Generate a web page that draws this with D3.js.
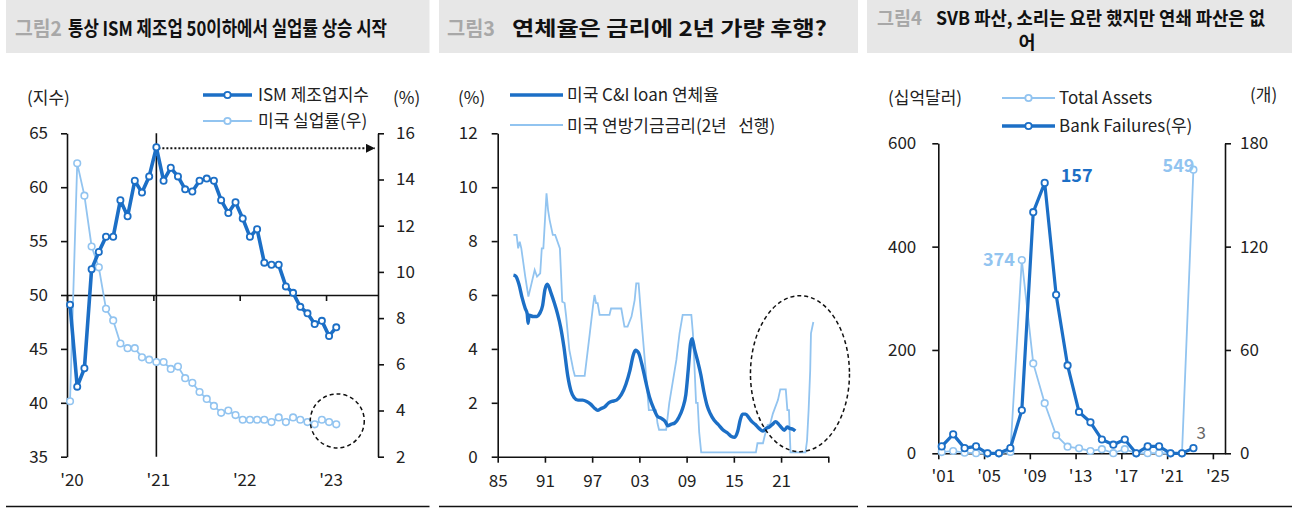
<!DOCTYPE html>
<html><head><meta charset="utf-8">
<script src="https://cdn.jsdelivr.net/npm/d3@7"></script>
<style>
body{margin:0;background:#fff;}
svg text{font-family:"Noto Sans CJK KR","Noto Sans",sans-serif;}
</style></head><body><svg id="c" width="1292" height="509"></svg>
<script>
// ---------------- Panel 1 data (monthly, Mar 2020 - Apr 2023) ----------------
const p1Months = ["2020-03","2020-04","2020-05","2020-06","2020-07","2020-08","2020-09","2020-10","2020-11","2020-12",
  "2021-01","2021-02","2021-03","2021-04","2021-05","2021-06","2021-07","2021-08","2021-09","2021-10","2021-11","2021-12",
  "2022-01","2022-02","2022-03","2022-04","2022-05","2022-06","2022-07","2022-08","2022-09","2022-10","2022-11","2022-12",
  "2023-01","2023-02","2023-03","2023-04"];
const ismValues = [49.1,41.5,43.2,52.4,54.0,55.4,55.4,58.8,57.3,60.6,
  59.5,61.0,63.7,60.6,61.8,61.0,59.8,59.6,60.6,60.8,60.6,58.8,
  57.6,58.6,57.1,55.4,56.1,53.0,52.8,52.8,50.8,50.2,48.9,48.3,
  47.3,47.6,46.2,47.0];
const unempValues = [4.4,14.7,13.3,11.1,10.2,8.4,7.9,6.9,6.7,6.7,
  6.3,6.2,6.1,6.1,5.8,5.9,5.4,5.2,4.8,4.5,4.2,3.9,
  4.0,3.8,3.6,3.6,3.6,3.6,3.5,3.7,3.5,3.7,3.6,3.5,
  3.4,3.6,3.5,3.4];
const p1XLabels = ["'20","'21","'22","'23"];
const p1LeftTicks = [35,40,45,50,55,60,65];
const p1RightTicks = [2,4,6,8,10,12,14,16];

// ---------------- Panel 2 data ----------------
const ciYears = [1987.0,1987.3,1987.7,1988.1,1988.5,1988.75,1988.85,1989.0,1989.5,1990.0,1990.3,1990.7,1991.0,1991.3,1991.8,
  1992.2,1992.6,1993.0,1993.4,1993.9,1994.3,1994.7,1995.2,1995.8,1996.3,1996.8,1997.3,1997.7,1998.1,1998.6,1999.1,1999.5,
  2000.1,2000.7,2001.3,2001.8,2002.2,2002.5,2002.9,2003.3,2003.8,2004.3,2004.8,2005.3,2005.8,2006.3,2006.6,2007.0,2007.5,
  2008.0,2008.5,2008.9,2009.2,2009.5,2009.7,2010.0,2010.4,2010.8,2011.2,2011.6,2012.0,2012.5,2013.0,2013.6,2014.2,2014.7,
  2015.1,2015.5,2015.8,2016.1,2016.5,2016.9,2017.3,2017.7,2018.2,2018.7,2019.1,2019.5,2019.9,2020.3,2020.7,2021.0,2021.4,
  2021.8,2022.1,2022.5,2022.8];
const ciValues = [6.74,6.7,6.4,5.9,5.5,5.3,4.95,5.25,5.2,5.2,5.3,5.6,6.2,6.4,6.05,
  5.7,5.3,4.8,4.1,3.0,2.45,2.2,2.1,2.1,2.05,1.95,1.8,1.72,1.78,1.85,2.0,2.05,
  2.1,2.3,2.7,3.2,3.75,3.95,3.85,3.45,2.8,2.2,1.8,1.5,1.42,1.3,1.15,1.2,1.25,
  1.45,1.8,2.3,3.2,4.2,4.38,4.0,3.55,3.05,2.4,1.9,1.6,1.35,1.2,1.0,0.88,0.75,
  0.72,0.95,1.35,1.58,1.58,1.45,1.3,1.2,1.05,0.95,1.05,1.1,1.2,1.3,1.2,1.1,0.98,
  1.1,1.05,1.02,0.95];
const ffYears = [1987.0,1987.4,1987.6,1987.8,1988.0,1988.5,1988.9,1989.3,1989.7,1990.0,1990.4,1990.6,1990.8,1991.2,1991.4,
  1991.6,1992.0,1992.3,1992.9,1993.2,1993.5,1993.7,1994.1,1994.6,1994.8,1996.05,1996.7,1997.1,1997.3,1997.5,1997.7,1997.95,
  1999.2,1999.4,2000.7,2001.1,2001.5,2002.0,2002.4,2002.6,2002.9,2003.2,2003.4,2003.9,2004.2,2005.1,2005.3,2005.5,2006.4,
  2006.8,2007.7,2008.1,2008.5,2009.6,2009.8,2010.0,2010.2,2010.4,2010.6,2010.85,2017.8,2018.0,2018.7,2018.9,2019.3,2019.6,
  2019.96,2020.6,2020.9,2021.6,2021.8,2022.0,2022.2,2024.1,2024.3,2024.5,2024.7,2024.8,2025.1];
const ffValues = [8.23,8.23,7.73,7.98,7.73,6.68,5.94,6.43,6.93,6.68,6.8,7.73,7.73,9.77,9.15,
  8.78,8.23,8.23,7.73,5.75,5.7,5.2,3.96,3.22,3.0,3.0,4.58,5.57,6.0,5.7,5.7,5.26,
  5.26,5.5,5.5,4.83,4.83,5.2,5.81,6.43,6.43,5.3,4.58,2.85,1.73,1.73,1.24,1.0,1.0,
  2.0,3.59,4.58,5.26,5.26,4.58,3.34,2.0,2.0,0.9,0.16,0.16,0.5,0.5,0.75,1.18,1.2,
  1.6,2.1,2.5,2.5,1.73,1.73,0.16,0.16,0.6,1.73,3.2,4.58,5.0];
const p2XTicks = [1985,1991,1997,2003,2009,2015,2021,2027];
const p2XLabels = ["85","91","97","03","09","15","21",""];
const p2YTicks = [0,2,4,6,8,10,12];

// ---------------- Panel 3 data ----------------
const p3Years = [2001,2002,2003,2004,2005,2006,2007,2008,2009,2010,2011,2012,2013,2014,2015,2016,2017,2018,2019,2020,2021,2022,2023];
const totalAssets = [2.3,4.5,1.1,0.2,0,0,2.6,374,174,97,35,12.8,9.7,4.5,8,0.3,8,0,0.2,0.5,0,0,549];
const bankFailures = [4,11,3,4,0,0,3,25,140,157,92,51,24,18,8,5,8,0,4,4,0,0,3];
const p3XLabels = ["'01","'05","'09","'13","'17","'21","'25"];
const p3LeftTicks = [0,200,400,600];
const p3RightTicks = [0,60,120,180];

// ---------------- styles ----------------
const DARK = "#1c6fc6", LIGHT = "#92c4f0", TXT = "#222";
const TICK_FS = 17, LEG_FS = 17;
const svg = d3.select("#c");

// title bands + bottom rules
function band(x0, x1, tag, tagW, title, tx, tw, fs) {
  svg.append("rect").attr("x", x0).attr("y", 0).attr("width", x1 - x0).attr("height", 53).attr("fill", "#e7e7e7");
  svg.append("text").attr("x", x0 + (tag.dx)).attr("y", tag.y).attr("font-size", fs).attr("font-weight", 700)
    .attr("fill", "#a8a8a8").attr("textLength", tagW).attr("lengthAdjust", "spacingAndGlyphs").text(tag.t);
  svg.append("text").attr("x", tx).attr("y", tag.y).attr("font-size", fs).attr("font-weight", 700)
    .attr("fill", "#111").attr("textLength", tw).attr("lengthAdjust", "spacingAndGlyphs").text(title);
  svg.append("line").attr("x1", x0).attr("x2", x1).attr("y1", 506.5).attr("y2", 506.5).attr("stroke", "#111").attr("stroke-width", 1.5);
}
band(6, 429.5, {t:"그림2", dx:9, y:36}, 47, "통상 ISM 제조업 50이하에서 실업률 상승 시작", 68, 319, 20);
band(439, 858, {t:"그림3", dx:8, y:36}, 48, "연체율은 금리에 2년 가량 후행?", 512, 315, 20);
band(867, 1292, {t:"그림4", dx:10, y:25}, 45, "SVB 파산, 소리는 요란 했지만 연쇄 파산은 없", 936, 329, 18.5);
svg.append("text").attr("x", 1027).attr("y", 49).attr("font-size", 18.5).attr("font-weight", 700).attr("fill", "#111")
  .attr("text-anchor", "middle").text("어");

function styleAxis(g) {
  g.selectAll(".domain").attr("stroke", "#111").attr("stroke-width", 1.6);
  g.selectAll(".tick line").attr("stroke", "#111").attr("stroke-width", 1.6);
  g.selectAll(".tick text").attr("fill", TXT).attr("font-size", TICK_FS)
    .attr("font-family", "'Noto Sans CJK KR','Noto Sans',sans-serif");
}
function label(x, y, t, opts) {
  const e = svg.append("text").attr("x", x).attr("y", y).attr("fill", (opts && opts.fill) || TXT)
    .attr("font-size", (opts && opts.fs) || LEG_FS).text(t);
  if (opts && opts.anchor) e.attr("text-anchor", opts.anchor);
  if (opts && opts.fw) e.attr("font-weight", opts.fw);
  return e;
}
function legendLine(x0, x1, y, color, w, marker) {
  svg.append("line").attr("x1", x0).attr("x2", x1).attr("y1", y).attr("y2", y).attr("stroke", color).attr("stroke-width", w);
  if (marker) svg.append("circle").attr("cx", (x0 + x1) / 2).attr("cy", y).attr("r", 3.2)
    .attr("fill", "#fff").attr("stroke", color).attr("stroke-width", 1.8);
}

// ================= Panel 1 =================
{
  const x = d3.scaleLinear().domain([-0.42, 42.8]).range([67, 378]);
  const yL = d3.scaleLinear().domain([35, 65]).range([456.7, 133.3]);
  const yR = d3.scaleLinear().domain([2, 16]).range([456.7, 133.3]);
  const tickIdx = p1XLabels.map((d, k) => -0.42 + 12 * k);

  const gx = svg.append("g").attr("transform", `translate(0,${yL(50)})`)
    .call(d3.axisBottom(x).tickValues(tickIdx).tickSize(6).tickSizeOuter(0).tickFormat(""));
  styleAxis(gx);
  const gl = svg.append("g").attr("transform", "translate(67,0)")
    .call(d3.axisLeft(yL).tickValues(p1LeftTicks).tickSize(6).tickPadding(13).tickSizeOuter(0));
  styleAxis(gl);
  const gr = svg.append("g").attr("transform", "translate(378,0)")
    .call(d3.axisRight(yR).tickValues(p1RightTicks).tickSize(6).tickPadding(12).tickSizeOuter(0));
  styleAxis(gr);
  p1XLabels.forEach((t, k) => label(x(tickIdx[k]) + 5, 486, t, {anchor: "middle", fs: TICK_FS}));

  const peak = d3.maxIndex(ismValues);
  svg.append("line").attr("x1", x(peak)).attr("x2", x(peak)).attr("y1", 133.3).attr("y2", 456.7)
    .attr("stroke", "#111").attr("stroke-width", 1.6);
  svg.append("defs").append("marker").attr("id", "arr").attr("viewBox", "0 0 10 10").attr("refX", 10).attr("refY", 5)
    .attr("markerWidth", 9).attr("markerHeight", 9).attr("markerUnits", "userSpaceOnUse").attr("orient", "auto")
    .append("path").attr("d", "M0,0L10,5L0,10Z").attr("fill", "#111");
  svg.append("line").attr("x1", x(peak) + 2).attr("x2", 375).attr("y1", yL(ismValues[peak]) + 1).attr("y2", yL(ismValues[peak]) + 1)
    .attr("stroke", "#111").attr("stroke-width", 2).attr("stroke-dasharray", "2,2").attr("marker-end", "url(#arr)");

  const lineU = d3.line().x((d, i) => x(i)).y(d => yR(d));
  svg.append("path").attr("d", lineU(unempValues)).attr("fill", "none").attr("stroke", LIGHT).attr("stroke-width", 1.8);
  svg.append("g").selectAll("circle").data(unempValues).join("circle")
    .attr("cx", (d, i) => x(i)).attr("cy", d => yR(d)).attr("r", 3.3)
    .attr("fill", "#fff").attr("stroke", LIGHT).attr("stroke-width", 1.6);
  const lineI = d3.line().x((d, i) => x(i)).y(d => yL(d));
  svg.append("path").attr("d", lineI(ismValues)).attr("fill", "none").attr("stroke", DARK).attr("stroke-width", 3.6)
    .attr("stroke-linejoin", "round");
  svg.append("g").selectAll("circle").data(ismValues).join("circle")
    .attr("cx", (d, i) => x(i)).attr("cy", d => yL(d)).attr("r", 3.1)
    .attr("fill", "#fff").attr("stroke", DARK).attr("stroke-width", 1.8);

  svg.append("circle").attr("cx", x(unempValues.length - 1) + 1).attr("cy", yR(3.55)).attr("r", 27)
    .attr("fill", "none").attr("stroke", "#111").attr("stroke-width", 1.5).attr("stroke-dasharray", "4,3");

  label(27, 104, "(지수)");
  label(393, 104, "(%)");
  legendLine(203, 252, 95, DARK, 3.6, true);
  label(258, 101, "ISM 제조업지수");
  legendLine(203, 252, 121, LIGHT, 1.8, true);
  label(258, 127, "미국 실업률(우)");
}

// ================= Panel 2 =================
{
  const x = d3.scaleLinear().domain([1985, 2027]).range([497.7, 828.3]);
  const y = d3.scaleLinear().domain([0, 12]).range([456.7, 133.3]);
  const gx = svg.append("g").attr("transform", `translate(0,${y(0)})`)
    .call(d3.axisBottom(x).tickValues(p2XTicks).tickSize(6).tickSizeOuter(0).tickPadding(12)
      .tickFormat((d, i) => p2XLabels[i]));
  styleAxis(gx);
  const gl = svg.append("g").attr("transform", "translate(497.7,0)")
    .call(d3.axisLeft(y).tickValues(p2YTicks).tickSize(6).tickPadding(14).tickSizeOuter(0));
  styleAxis(gl);

  const lineF = d3.line().x((d, i) => x(ffYears[i])).y(d => y(d));
  svg.append("path").attr("d", lineF(ffValues)).attr("fill", "none").attr("stroke", LIGHT).attr("stroke-width", 1.8);
  const lineC = d3.line().curve(d3.curveMonotoneX).x((d, i) => x(ciYears[i])).y(d => y(d));
  svg.append("path").attr("d", lineC(ciValues)).attr("fill", "none").attr("stroke", DARK).attr("stroke-width", 3.4)
    .attr("stroke-linejoin", "round");

  svg.append("ellipse").attr("cx", x(2023.4)).attr("cy", y(3.08)).attr("rx", 49.5).attr("ry", 78)
    .attr("fill", "none").attr("stroke", "#111").attr("stroke-width", 1.5).attr("stroke-dasharray", "4,3");

  label(458, 104, "(%)");
  legendLine(510, 563, 95, DARK, 3.6, false);
  label(567, 101, "미국 C&I loan 연체율");
  legendLine(510, 563, 125, LIGHT, 1.8, false);
  label(567, 132, "미국 연방기금금리(2년   선행)").attr("xml:space", "preserve").style("white-space", "pre");
}

// ================= Panel 3 =================
{
  const x = d3.scaleLinear().domain([2000.7, 2025.76]).range([938.3, 1225]);
  const yL = d3.scaleLinear().domain([0, 600]).range([453.3, 143.3]);
  const yR = d3.scaleLinear().domain([0, 180]).range([453.3, 143.3]);
  const tickYears = p3XLabels.map((d, k) => 2000.7 + 4 * k);
  const gx = svg.append("g").attr("transform", `translate(0,${yL(0)})`)
    .call(d3.axisBottom(x).tickValues(tickYears).tickSize(6).tickSizeOuter(0).tickFormat(""));
  styleAxis(gx);
  p3XLabels.forEach((t, k) => label(x(tickYears[k]) + 5, 482, t, {anchor: "middle", fs: TICK_FS}));
  const gl = svg.append("g").attr("transform", "translate(938.3,0)")
    .call(d3.axisLeft(yL).tickValues(p3LeftTicks).tickSize(6).tickPadding(16).tickSizeOuter(0));
  styleAxis(gl);
  const gr = svg.append("g").attr("transform", "translate(1225,0)")
    .call(d3.axisRight(yR).tickValues(p3RightTicks).tickSize(6).tickPadding(9).tickSizeOuter(0));
  styleAxis(gr);

  const lineA = d3.line().x((d, i) => x(p3Years[i])).y(d => yL(d));
  svg.append("path").attr("d", lineA(totalAssets)).attr("fill", "none").attr("stroke", LIGHT).attr("stroke-width", 1.8);
  svg.append("g").selectAll("circle").data(totalAssets).join("circle")
    .attr("cx", (d, i) => x(p3Years[i])).attr("cy", d => yL(d)).attr("r", 3.3)
    .attr("fill", "#fff").attr("stroke", LIGHT).attr("stroke-width", 1.6);
  const lineB = d3.line().x((d, i) => x(p3Years[i])).y(d => yR(d));
  svg.append("path").attr("d", lineB(bankFailures)).attr("fill", "none").attr("stroke", DARK).attr("stroke-width", 3.2)
    .attr("stroke-linejoin", "round");
  svg.append("g").selectAll("circle").data(bankFailures).join("circle")
    .attr("cx", (d, i) => x(p3Years[i])).attr("cy", d => yR(d)).attr("r", 3.2)
    .attr("fill", "#fff").attr("stroke", DARK).attr("stroke-width", 1.8);

  const iA = totalAssets.indexOf(374), iB = bankFailures.indexOf(157), iC = totalAssets.length - 1;
  label(x(p3Years[iA]) - 7, yL(totalAssets[iA]) + 6, totalAssets[iA], {fill: LIGHT, fw: 700, fs: 18, anchor: "end"});
  label(x(p3Years[iB]) + 16, yR(bankFailures[iB]) - 1, bankFailures[iB], {fill: DARK, fw: 700, fs: 18});
  label(x(p3Years[iC]) + 1, yL(totalAssets[iC]) + 2, totalAssets[iC], {fill: LIGHT, fw: 700, fs: 18, anchor: "end"});
  label(x(p3Years[iC]) + 3, yR(bankFailures[iC]) - 9, bankFailures[iC], {fill: "#666", fs: 17});

  label(888, 104, "(십억달러)");
  label(1250, 101, "(개)");
  legendLine(1002, 1055, 98, LIGHT, 1.8, true);
  label(1059, 104, "Total Assets");
  legendLine(1002, 1055, 126, DARK, 3.6, true);
  label(1059, 132, "Bank Failures(우)");
}
</script></body></html>
